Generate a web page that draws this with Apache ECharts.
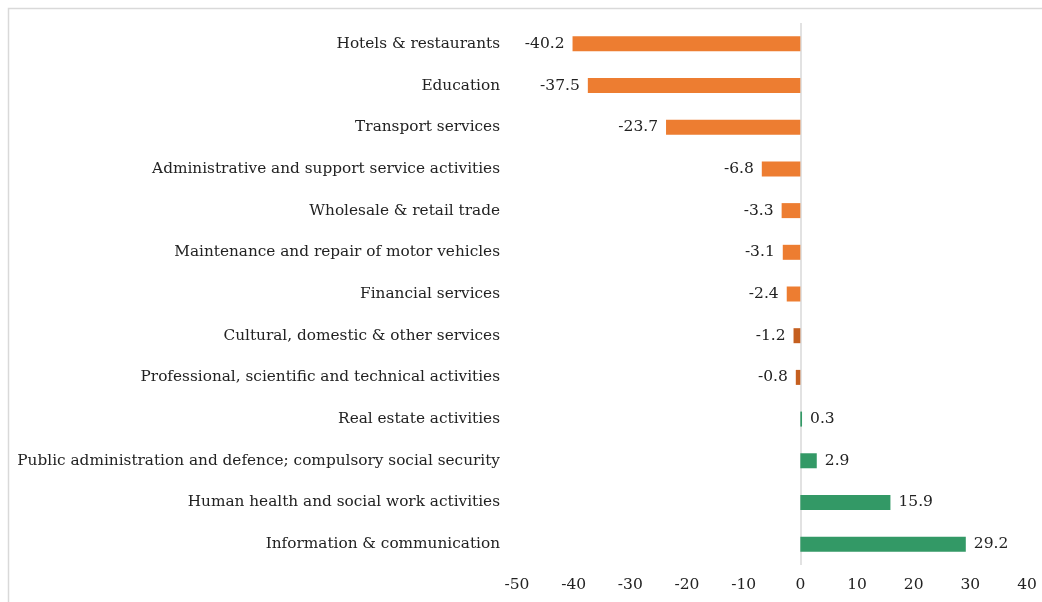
<!DOCTYPE html>
<html><head><meta charset="utf-8">
<script src="https://cdn.jsdelivr.net/npm/echarts@6/dist/echarts.min.js"></script>
<style>html,body{margin:0;padding:0;background:#fff}#c{width:1042px;height:602px}</style>
</head><body><div id="c"></div>
<script>
const categories = [
  "Hotels & restaurants",
  "Education",
  "Transport services",
  "Administrative and support service activities",
  "Wholesale & retail trade",
  "Maintenance and repair of motor vehicles",
  "Financial services",
  "Cultural, domestic & other services",
  "Professional, scientific and technical activities",
  "Real estate activities",
  "Public administration and defence; compulsory social security",
  "Human health and social work activities",
  "Information & communication"
];
const values = [-40.2, -37.5, -23.7, -6.8, -3.3, -3.1, -2.4, -1.2, -0.8, 0.3, 2.9, 15.9, 29.2];
const barColors = ["#ED7D31","#ED7D31","#ED7D31","#ED7D31","#ED7D31","#ED7D31","#ED7D31","#C55F1F","#C55F1F","#339966","#339966","#339966","#339966"];
const xTicks = [-50, -40, -30, -20, -10, 0, 10, 20, 30, 40];

const FONT = "DejaVu Serif";
const chart = echarts.init(document.getElementById('c'), null, {renderer: 'canvas'});
chart.setOption({
  animation: false,
  backgroundColor: '#fff',
  graphic: [{
    type: 'rect', left: 6, top: 6, z: -1,
    shape: {width: 1200, height: 800},
    style: {fill: 'none', stroke: '#d9d9d9', lineWidth: 1.5}
  }],
  grid: {left: 517, right: 15, top: 23, bottom: 37, containLabel: false, outerBoundsMode: 'none'},
  xAxis: {
    type: 'value', min: xTicks[0], max: xTicks[xTicks.length - 1], interval: 10,
    axisLine: {show: false}, axisTick: {show: false},
    splitLine: {show: true, lineStyle: {width: 1.5,
      color: xTicks.map(t => t === 0 ? '#d9d9d9' : 'rgba(0,0,0,0)')}},
    axisLabel: {color: '#222', fontFamily: FONT, fontSize: 15.5, margin: 12}
  },
  yAxis: {
    type: 'category', inverse: true, data: categories,
    axisLine: {show: false}, axisTick: {show: false},
    axisLabel: {color: '#222', fontFamily: FONT, fontSize: 15.3, margin: 17}
  },
  series: [{
    type: 'bar', barWidth: 15,
    data: values.map((v, i) => ({
      value: v,
      itemStyle: {color: barColors[i]},
      label: {position: v < 0 ? 'left' : 'right'}
    })),
    label: {show: true, color: '#222', fontFamily: FONT, fontSize: 15.5, distance: 8,
      formatter: p => p.value.toFixed(1)}
  }]
});
</script></body></html>
